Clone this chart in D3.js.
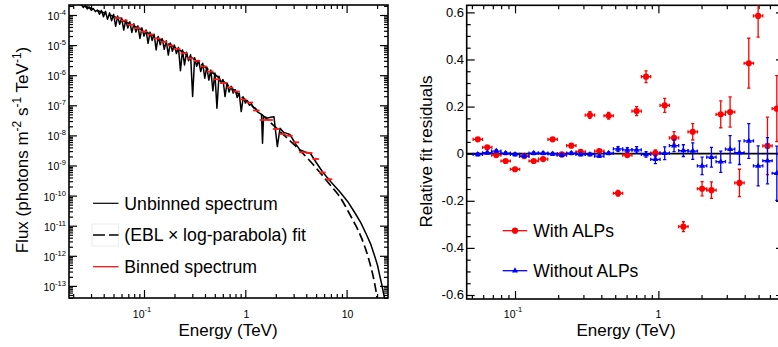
<!DOCTYPE html>
<html>
<head>
<meta charset="utf-8">
<script src="https://cdn.jsdelivr.net/npm/d3@7"></script>
<style>
  body { margin: 0; background: #fff; }
  svg { display: block; font-family: "Liberation Sans", Arial, Helvetica, sans-serif; }
  .frame { fill: none; stroke: #000; stroke-width: 1.6; }
  .axis path { display: none; }
  .axis line { stroke: #000; stroke-width: 1.2; }
</style>
</head>
<body>
<svg id="chart" width="778" height="347"></svg>
<script>
// ---------------- data ----------------

// centres of the energy bins (TeV), shared by both panels
const binEnergy = [0.055, 0.064, 0.074, 0.086, 0.100, 0.116, 0.135, 0.157, 0.183, 0.212,
  0.247, 0.287, 0.333, 0.387, 0.450, 0.523, 0.607, 0.705, 0.820, 0.953,
  1.107, 1.286, 1.494, 1.736, 2.018, 2.344, 2.723, 3.164, 3.677, 4.272,
  4.964, 5.768, 6.701];
const binHalfWidth = 1.078; // multiplicative half width of a bin

// binned spectrum, log10 flux (photons m^-2 s^-1 TeV^-1)
const binnedLogFlux = [-4.100, -4.183, -4.322, -4.439, -4.548, -4.648, -4.781, -4.897, -5.013, -5.123,
  -5.272, -5.439, -5.522, -5.711, -5.877, -6.136, -6.259, -6.409, -6.542, -6.807,
  -6.907, -7.173, -7.488, -7.488, -7.787, -7.953, -8.010, -8.229, -8.561, -8.585,
  -8.784, -9.233, -9.458];
const binnedLogFluxErr = [0.015, 0.015, 0.015, 0.015, 0.015, 0.015, 0.015, 0.015, 0.015, 0.015,
  0.015, 0.015, 0.015, 0.015, 0.015, 0.015, 0.015, 0.015, 0.015, 0.015,
  0.02, 0.02, 0.02, 0.025, 0.025, 0.03, 0.03, 0.03, 0.035, 0.035,
  0.04, 0.045, 0.05];

// (EBL x log-parabola) fit, [log10 E, log10 flux]
const fitLog = [[-1.70, -3.571], [-1.632, -3.651], [-1.434, -3.884], [-1.286, -4.066], [-1.138, -4.299],
  [-1.0, -4.532], [-0.842, -4.814], [-0.694, -5.080], [-0.546, -5.379], [-0.398, -5.728],
  [-0.250, -6.110], [-0.102, -6.525], [0.046, -6.957], [0.194, -7.405], [0.343, -7.870],
  [0.491, -8.336], [0.639, -8.851], [0.737, -9.233], [0.846, -9.681], [0.935, -10.047],
  [1.024, -10.578], [1.083, -10.944], [1.142, -11.365], [1.221, -12.140], [1.270, -12.804],
  [1.302, -13.402], [1.320, -13.80]];

// unbinned spectrum, [log10 E, log10 flux]
const unbinnedLog = [[-1.66, -3.60], [-1.62, -3.645], [-1.60, -3.749], [-1.58, -3.692], [-1.56, -3.796],
  [-1.54, -3.739], [-1.52, -3.843], [-1.50, -3.786], [-1.48, -3.890], [-1.46, -3.833],
  [-1.44, -3.977], [-1.42, -3.851], [-1.40, -4.056], [-1.38, -3.880], [-1.36, -4.145],
  [-1.34, -3.929], [-1.32, -4.194], [-1.30, -3.979], [-1.28, -4.375], [-1.26, -4.037],
  [-1.24, -4.308], [-1.22, -4.100], [-1.20, -4.501], [-1.18, -4.163], [-1.16, -4.434],
  [-1.14, -4.226], [-1.12, -4.579], [-1.10, -4.293], [-1.08, -4.567], [-1.06, -4.361],
  [-1.04, -4.780], [-1.02, -4.428], [-1.00, -4.702], [-0.98, -4.498], [-0.96, -4.943],
  [-0.94, -4.569], [-0.92, -4.845], [-0.90, -4.640], [-0.88, -5.160], [-0.86, -4.712],
  [-0.84, -4.988], [-0.82, -4.784], [-0.80, -5.140], [-0.78, -4.856], [-0.76, -5.330],
  [-0.74, -4.928], [-0.72, -5.204], [-0.70, -5.000], [-0.68, -5.278], [-0.66, -5.079],
  [-0.64, -5.850], [-0.62, -5.160], [-0.60, -5.660], [-0.58, -5.241], [-0.56, -5.521],
  [-0.54, -5.323], [-0.52, -6.710], [-0.50, -5.417], [-0.48, -5.705], [-0.46, -5.512],
  [-0.44, -5.879], [-0.42, -5.606], [-0.40, -6.100], [-0.38, -5.724], [-0.36, -6.160],
  [-0.34, -5.828], [-0.32, -6.520], [-0.30, -5.931], [-0.28, -7.100], [-0.26, -6.034],
  [-0.24, -6.258], [-0.22, -6.144], [-0.20, -6.710], [-0.18, -6.256], [-0.16, -6.562],
  [-0.14, -6.368], [-0.12, -6.595], [-0.10, -6.481], [-0.08, -6.739], [-0.06, -6.598],
  [-0.04, -7.210], [-0.02, -6.724], [0.00, -6.923], [0.02, -6.840], [0.04, -7.000],
  [0.06, -6.950], [0.08, -7.080], [0.10, -7.100], [0.12, -7.220], [0.14, -7.260],
  [0.16, -7.300], [0.17, -8.260], [0.18, -7.380], [0.20, -7.400], [0.22, -7.420],
  [0.25, -7.400], [0.283, -7.380], [0.316, -8.370], [0.343, -7.760], [0.38, -7.900],
  [0.44, -7.970], [0.50, -8.300], [0.54, -8.485], [0.60, -8.560], [0.64, -8.585],
  [0.70, -8.900], [0.737, -9.083], [0.767, -9.233], [0.846, -9.548], [0.935, -9.880],
  [1.01, -10.195], [1.083, -10.578], [1.14, -10.897], [1.198, -11.309], [1.24, -11.630],
  [1.280, -12.040], [1.305, -12.315], [1.330, -12.704], [1.347, -12.950], [1.362, -13.203],
  [1.374, -13.402], [1.384, -13.668]];

// relative fit residuals
const residWithALPs = [0.061, 0.027, -0.006, -0.031, -0.066, -0.010, -0.031, -0.023, 0.061, -0.003,
  0.034, 0.008, 0.164, 0.011, 0.161, -0.168, -0.006, 0.181, 0.327, 0.002,
  0.205, 0.067, -0.310, 0.093, -0.149, -0.155, 0.167, 0.177, -0.124, 0.384,
  0.585, 0.033, 0.191];
const errWithALPs = [0.004, 0.004, 0.004, 0.004, 0.004, 0.004, 0.004, 0.004, 0.004, 0.004,
  0.004, 0.004, 0.014, 0.006, 0.014, 0.012, 0.008, 0.019, 0.025, 0.014,
  0.030, 0.027, 0.021, 0.035, 0.030, 0.035, 0.057, 0.064, 0.058, 0.106,
  0.090, 0.122, 0.140];
const residWithoutALPs = [-0.003, 0.004, 0.011, 0.002, -0.003, -0.010, 0.002, 0.002, -0.001, -0.006,
  0.002, -0.003, -0.003, -0.010, 0.002, 0.020, 0.016, 0.016, -0.003, -0.024,
  0.002, 0.034, 0.013, 0.011, -0.052, -0.015, -0.034, 0.019, 0.004, 0.054,
  -0.052, -0.030, -0.083];
const errWithoutALPs = [0.006, 0.006, 0.006, 0.006, 0.006, 0.006, 0.006, 0.006, 0.006, 0.006,
  0.006, 0.006, 0.006, 0.006, 0.006, 0.010, 0.010, 0.014, 0.012, 0.018,
  0.027, 0.025, 0.025, 0.035, 0.037, 0.042, 0.045, 0.058, 0.050, 0.074,
  0.085, 0.098, 0.115];

// tick labels
const leftXTicks = [{v: 0.1, base: "10", exp: "-1"}, {v: 1, base: "1"}, {v: 10, base: "10"}];
const leftYExponents = [-4, -5, -6, -7, -8, -9, -10, -11, -12, -13];
const rightXTicks = [{v: 0.1, base: "10", exp: "-1"}, {v: 1, base: "1"}];
const rightYTicks = [0.6, 0.4, 0.2, 0, -0.2, -0.4, -0.6];

// ---------------- layout ----------------
const svg = d3.select("#chart");
const L = { x0: 69, x1: 388, y0: 5, y1: 298 };
const R = { x0: 466.7, x1: 784, y0: 5.3, y1: 299 };

const xL = d3.scaleLog().domain([0.01818, 25.63]).range([L.x0, L.x1]);
const yL = d3.scaleLog().domain([Math.pow(10, -13.402), Math.pow(10, -3.668)]).range([L.y1, L.y0]);
const xR = d3.scaleLog().domain([0.04602, 7.52]).range([R.x0, R.x1]);
const yR = d3.scaleLinear().domain([-0.617, 0.630]).range([R.y1, R.y0]);

svg.append("rect").attr("width", 778).attr("height", 347).attr("fill", "#fff");

const defs = svg.append("defs");
defs.append("clipPath").attr("id", "clipL").append("rect")
  .attr("x", L.x0).attr("y", L.y0).attr("width", L.x1 - L.x0).attr("height", L.y1 - L.y0);
defs.append("clipPath").attr("id", "clipR").append("rect")
  .attr("x", R.x0).attr("y", R.y0).attr("width", R.x1 - R.x0).attr("height", R.y1 - R.y0);

// minor ticks of a log axis: 2..9 x 10^k inside the domain
function logMinor(scale) {
  const [lo, hi] = scale.domain();
  const out = [];
  for (let k = Math.floor(Math.log10(Math.min(lo, hi))); k <= Math.ceil(Math.log10(Math.max(lo, hi))); k++) {
    for (let m = 2; m <= 9; m++) {
      const v = m * Math.pow(10, k);
      if (v > Math.min(lo, hi) && v < Math.max(lo, hi)) out.push(v);
    }
  }
  return out;
}

// ticks on all four sides, pointing inwards
function drawTicks(box, x, y, xMajor, xMinor, yMajor, yMinor) {
  const g = svg.append("g").attr("class", "axis");
  const sets = [
    [d3.axisBottom, x, xMajor, 8, `translate(0,${box.y1})`],
    [d3.axisBottom, x, xMinor, 4, `translate(0,${box.y1})`],
    [d3.axisTop, x, xMajor, 8, `translate(0,${box.y0})`],
    [d3.axisTop, x, xMinor, 4, `translate(0,${box.y0})`],
    [d3.axisLeft, y, yMajor, 8, `translate(${box.x0},0)`],
    [d3.axisLeft, y, yMinor, 4, `translate(${box.x0},0)`],
    [d3.axisRight, y, yMajor, 8, `translate(${box.x1},0)`],
    [d3.axisRight, y, yMinor, 4, `translate(${box.x1},0)`]
  ];
  sets.forEach(([fn, sc, vals, len, tr]) => {
    g.append("g").attr("transform", tr)
      .call(fn(sc).tickValues(vals).tickSize(-len).tickFormat(""));
  });
  svg.append("rect").attr("class", "frame")
    .attr("x", box.x0).attr("y", box.y0)
    .attr("width", box.x1 - box.x0).attr("height", box.y1 - box.y0);
}

// "10" with a raised exponent
function powerLabel(g, x, y, anchor, base, exp, size) {
  const t = g.append("text").attr("x", x).attr("y", y)
    .attr("text-anchor", anchor).attr("font-size", size).attr("fill", "#000");
  t.append("tspan").text(base);
  if (exp) t.append("tspan").attr("dy", -size * 0.48).attr("font-size", size * 0.72).text(exp);
  return t;
}

// ---------------- left panel: spectrum ----------------
drawTicks(L, xL, yL, [0.1, 1, 10], logMinor(xL),
  leftYExponents.map(e => Math.pow(10, e)), logMinor(yL));

const labelsL = svg.append("g");
leftXTicks.forEach(t => {
  powerLabel(labelsL, xL(t.v) + (t.exp ? -2 : 1), 317.5, "middle", t.base, t.exp, 10.5);
});
leftYExponents.forEach(e => {
  powerLabel(labelsL, 66, yL(Math.pow(10, e)) + 5, "end", "10", String(e), 10.5);
});

const plotL = svg.append("g").attr("clip-path", "url(#clipL)");
const lineL = d3.line().x(d => xL(Math.pow(10, d[0]))).y(d => yL(Math.pow(10, d[1])));

plotL.append("path").datum(fitLog)
  .attr("d", lineL.curve(d3.curveMonotoneX))
  .attr("fill", "none").attr("stroke", "#000").attr("stroke-width", 1.7)
  .attr("stroke-dasharray", "9,4");

plotL.append("path").datum(unbinnedLog)
  .attr("d", lineL.curve(d3.curveLinear))
  .attr("fill", "none").attr("stroke", "#000").attr("stroke-width", 1.5)
  .attr("stroke-linejoin", "round");

const binned = binEnergy.map((e, i) => ({ e, f: binnedLogFlux[i], err: binnedLogFluxErr[i] }));
const binG = plotL.append("g").attr("stroke", "#ff1a1a");
binG.selectAll("line.h").data(binned).join("line").attr("class", "h")
  .attr("stroke-width", 1.8)
  .attr("x1", d => xL(d.e / binHalfWidth)).attr("x2", d => xL(d.e * binHalfWidth))
  .attr("y1", d => yL(Math.pow(10, d.f))).attr("y2", d => yL(Math.pow(10, d.f)));
binG.selectAll("line.v").data(binned).join("line").attr("class", "v")
  .attr("stroke-width", 1.3)
  .attr("x1", d => xL(d.e)).attr("x2", d => xL(d.e))
  .attr("y1", d => yL(Math.pow(10, d.f + d.err))).attr("y2", d => yL(Math.pow(10, d.f - d.err)));

// legend
const legL = svg.append("g").attr("font-size", 17.7);
legL.append("rect").attr("x", 92).attr("y", 224).attr("width", 26.5).attr("height", 22)
  .attr("fill", "none").attr("stroke", "#ececec");
[
  { y: 203.3, text: "Unbinned spectrum", color: "#000", dash: null },
  { y: 235, text: "(EBL \u00d7 log-parabola) fit", color: "#000", dash: "12,4" },
  { y: 266.7, text: "Binned spectrum", color: "#ff0000", dash: null }
].forEach(d => {
  legL.append("line").attr("x1", 93).attr("x2", 118.5).attr("y1", d.y).attr("y2", d.y)
    .attr("stroke", d.color).attr("stroke-width", d.dash ? 1.7 : 1.2)
    .attr("stroke-dasharray", d.dash);
  legL.append("text").attr("x", 124.3).attr("y", d.y + 6.3).text(d.text);
});

// axis titles
svg.append("text").attr("x", 228).attr("y", 336).attr("text-anchor", "middle")
  .attr("font-size", 17).text("Energy (TeV)");

const yTitleL = svg.append("text")
  .attr("transform", "translate(27.5,150) rotate(-90)")
  .attr("text-anchor", "middle").attr("font-size", 17);
[["Flux (photons m", null], ["-2", "sup"], [" s", null], ["-1", "sup"], [" TeV", null], ["-1", "sup"], [")", null]]
  .forEach(([s, kind]) => {
    const sp = yTitleL.append("tspan").text(s);
    if (kind === "sup") sp.attr("dy", -7).attr("font-size", 12);
    else if (s !== "Flux (photons m") sp.attr("dy", 7);
  });

// ---------------- right panel: residuals ----------------
const rightYMinor = d3.range(-12, 13).map(k => k * 0.05).filter((v, i) => (i % 4) !== 0);
drawTicks(R, xR, yR, [0.1, 1], logMinor(xR), rightYTicks, rightYMinor);

const labelsR = svg.append("g");
rightXTicks.forEach(t => {
  powerLabel(labelsR, xR(t.v) + (t.exp ? -2 : 0), 317.5, "middle", t.base, t.exp, 10.5);
});
rightYTicks.forEach(v => {
  labelsR.append("text").attr("x", 464).attr("y", yR(v) + 4.5)
    .attr("text-anchor", "end").attr("font-size", 13).text(v === 0 ? "0" : String(v));
});

const plotR = svg.append("g").attr("clip-path", "url(#clipR)");

plotR.append("line").attr("x1", R.x0).attr("x2", R.x1)
  .attr("y1", yR(0)).attr("y2", yR(0))
  .attr("stroke", "#000").attr("stroke-width", 1.8);

function drawResiduals(values, errors, color, marker) {
  const pts = binEnergy.map((e, i) => ({ e, v: values[i], err: errors[i] }));
  const g = plotR.append("g").attr("stroke", color).attr("stroke-width", 1.3);
  const cap = 1.6;

  g.selectAll("line.h").data(pts).join("line").attr("class", "h")
    .attr("x1", d => xR(d.e / binHalfWidth)).attr("x2", d => xR(d.e * binHalfWidth))
    .attr("y1", d => yR(d.v)).attr("y2", d => yR(d.v));
  g.selectAll("line.v").data(pts).join("line").attr("class", "v")
    .attr("x1", d => xR(d.e)).attr("x2", d => xR(d.e))
    .attr("y1", d => yR(d.v + d.err)).attr("y2", d => yR(d.v - d.err));
  // small end caps
  g.selectAll("line.ct").data(pts).join("line").attr("class", "ct")
    .attr("x1", d => xR(d.e) - cap).attr("x2", d => xR(d.e) + cap)
    .attr("y1", d => yR(d.v + d.err)).attr("y2", d => yR(d.v + d.err));
  g.selectAll("line.cb").data(pts).join("line").attr("class", "cb")
    .attr("x1", d => xR(d.e) - cap).attr("x2", d => xR(d.e) + cap)
    .attr("y1", d => yR(d.v - d.err)).attr("y2", d => yR(d.v - d.err));
  g.selectAll("line.cl").data(pts).join("line").attr("class", "cl")
    .attr("x1", d => xR(d.e / binHalfWidth)).attr("x2", d => xR(d.e / binHalfWidth))
    .attr("y1", d => yR(d.v) - cap).attr("y2", d => yR(d.v) + cap);
  g.selectAll("line.cr").data(pts).join("line").attr("class", "cr")
    .attr("x1", d => xR(d.e * binHalfWidth)).attr("x2", d => xR(d.e * binHalfWidth))
    .attr("y1", d => yR(d.v) - cap).attr("y2", d => yR(d.v) + cap);

  g.selectAll("path.m").data(pts).join("path").attr("class", "m")
    .attr("transform", d => `translate(${xR(d.e)},${yR(d.v)})`)
    .attr("d", d3.symbol().type(marker).size(marker === d3.symbolCircle ? 30 : 16)())
    .attr("fill", color).attr("stroke", "none");
}

drawResiduals(residWithALPs, errWithALPs, "#ff0000", d3.symbolCircle);
drawResiduals(residWithoutALPs, errWithoutALPs, "#0000ff", d3.symbolTriangle);

// legend
const legR = svg.append("g").attr("font-size", 17.5);
[
  { y: 230.7, text: "With ALPs", color: "#ff0000", marker: d3.symbolCircle },
  { y: 270.7, text: "Without ALPs", color: "#0000ff", marker: d3.symbolTriangle }
].forEach(d => {
  legR.append("line").attr("x1", 502.7).attr("x2", 527.3).attr("y1", d.y).attr("y2", d.y)
    .attr("stroke", d.color).attr("stroke-width", 1.3);
  legR.append("path").attr("transform", `translate(515,${d.y})`)
    .attr("d", d3.symbol().type(d.marker).size(d.marker === d3.symbolCircle ? 30 : 16)())
    .attr("fill", d.color);
  legR.append("text").attr("x", 533.3).attr("y", d.y + 6.3).text(d.text);
});

svg.append("text").attr("x", 626).attr("y", 336).attr("text-anchor", "middle")
  .attr("font-size", 17).text("Energy (TeV)");
svg.append("text").attr("transform", "translate(431.5,151.5) rotate(-90)")
  .attr("text-anchor", "middle").attr("font-size", 17).text("Relative fit residuals");
</script>
</body>
</html>
